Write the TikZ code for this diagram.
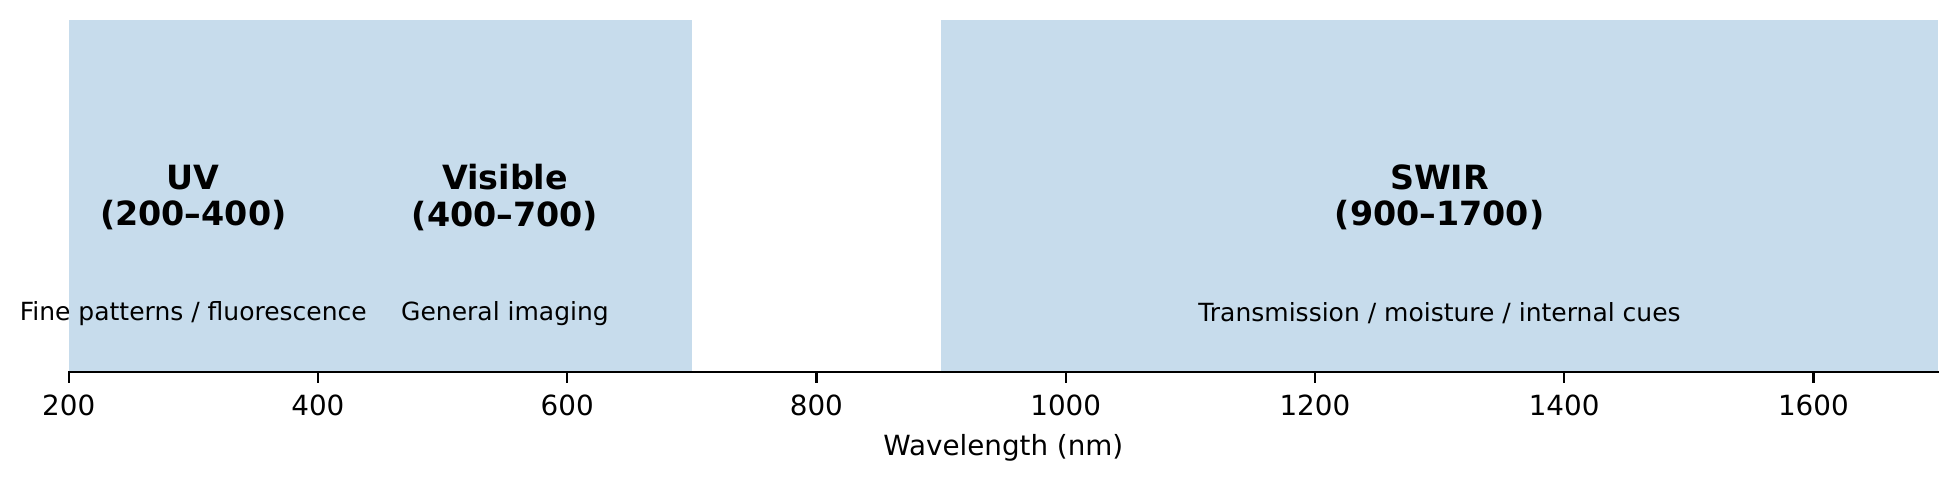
\documentclass[tikz,border=0pt]{standalone}
\usepackage{fontspec}
\setmainfont{DejaVu Sans}
\definecolor{bandblue}{RGB}{199,220,236}
\begin{document}
\begin{tikzpicture}[x=0.36pt,y=-0.36pt,
  bandbox/.style={fill=bandblue,draw=none},
  title/.style={font=\bfseries\fontsize{12}{13.2}\selectfont,align=center,inner sep=0},
  note/.style={font=\fontsize{9}{11}\selectfont,inner sep=0,anchor=base},
  ticklab/.style={font=\fontsize{10}{12}\selectfont,inner sep=0,anchor=base},
  axisline/.style={line width=0.8pt,line cap=rect},
  tickline/.style={line width=0.8pt}]
\useasboundingbox (0,0) rectangle (1958,480);
% bands
\path[bandbox] (68.7,20) rectangle (691.8,372);
\path[bandbox] (941.0,20) rectangle (1938.0,372);
% titles
\node[title] (uv) at (193.3,197.5) {UV\\(200–400)};
\node[title] (vis) at (505.0,197.5) {Visible\\(400–700)};
\node[title] (swir) at (1439.5,197.5) {SWIR\\(900–1700)};
% notes
\node[note] (uvn) at (193.3,321) {Fine patterns / fluorescence};
\node[note] (visn) at (505.0,321) {General imaging};
\node[note] (swirn) at (1439.5,321.5) {Transmission / moisture / internal cues};
% axis
\coordinate (a0) at (68.7,372);
\coordinate (a1) at (1938.0,372);
\draw[axisline] (a0) -- (a1);
\foreach \lab/\xx in {200/68.7,400/317.9,600/567.2,800/816.4,1000/1065.7,1200/1314.9,1400/1564.1,1600/1813.4}{
  \coordinate (tk\lab) at (\xx,372);
  \draw[tickline] (tk\lab) -- ++(0,11) coordinate (te\lab);
  \node[ticklab] (tl\lab) at (\xx,415.5) {\lab};
}
\node[ticklab] (xlab) at (1003.3,455.5) {Wavelength (nm)};
\end{tikzpicture}
\end{document}
